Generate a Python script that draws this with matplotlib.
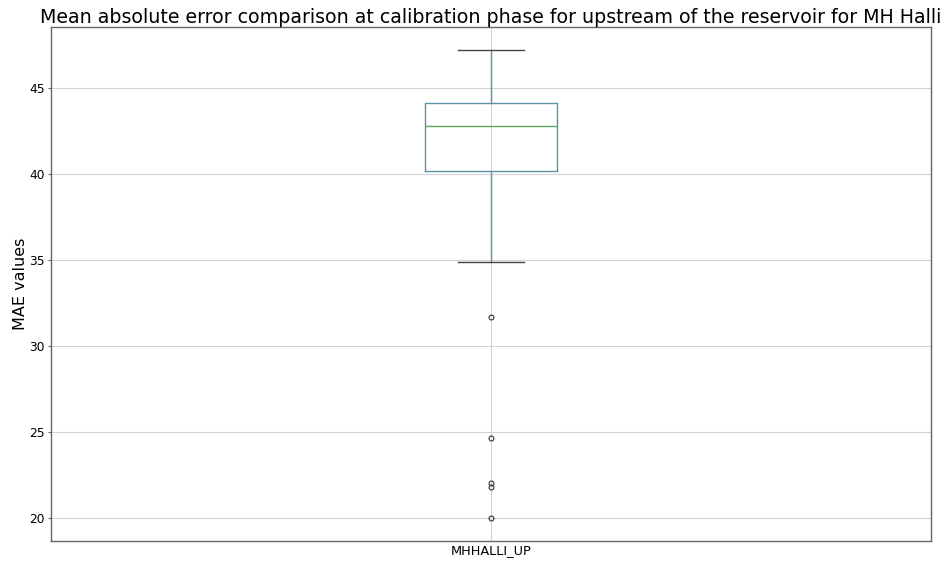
import matplotlib
matplotlib.use("Agg")
import matplotlib.pyplot as plt

# box statistics
label = "MHHALLI_UP"
q1 = 40.18
median = 42.77
q3 = 44.14
whisker_low = 34.86
whisker_high = 47.2
outliers = [31.65, 24.66, 22.04, 21.8, 20.0]


def main():
    fig = plt.figure(figsize=(9.49, 5.62), dpi=100)
    ax = fig.add_axes([0.0537, 0.0374, 0.9273, 0.9146])

    stats = [{"label": label, "med": median, "q1": q1, "q3": q3,
              "whislo": whisker_low, "whishi": whisker_high, "fliers": outliers}]
    ax.bxp(stats, widths=0.15,
           boxprops=dict(color="#5b93a8", linewidth=1),
           whiskerprops=dict(color="#5b93a8", linewidth=1),
           medianprops=dict(color="#5aa862", linewidth=1),
           capprops=dict(color="#444444", linewidth=1),
           flierprops=dict(marker="o", markersize=3.5, markerfacecolor="none",
                           markeredgecolor="#333333", markeredgewidth=0.8))
    ax.set_xlim(0.5, 1.5)

    ax.grid(True, color="#d3d3d3", linewidth=0.8)
    ax.set_axisbelow(True)
    for s in ax.spines.values():
        s.set_color("#666666")
        s.set_linewidth(1)
    ax.tick_params(labelsize=8.8, length=2.5, pad=2, color="#666666")
    ax.tick_params(axis="x", labelsize=9.3, length=0, pad=2)
    ax.set_ylabel("MAE values", fontsize=11.5, labelpad=1)
    ax.set_title("Mean absolute error comparison at calibration phase for upstream of the reservoir for MH Halli",
                 fontsize=13.7, pad=3)

    fig.savefig("out.png", dpi=100)
    plt.close()


if __name__ == '__main__':
    main()
